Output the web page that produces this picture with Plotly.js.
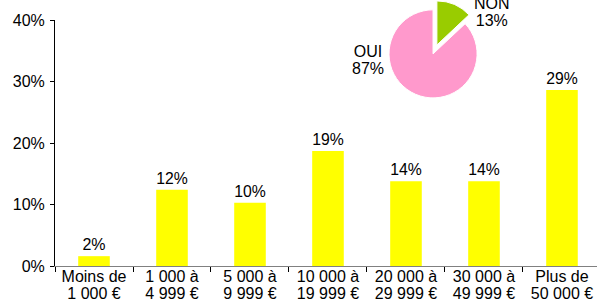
<!DOCTYPE html>
<html><head><meta charset="utf-8">
<script src="https://cdn.plot.ly/plotly-3.0.1.min.js"></script>
<style>html,body{margin:0;padding:0;background:#fff}#c{width:597px;height:306px}</style>
</head><body><div id="c"></div>
<script>
const categories = ["Moins de<br>1 000 €","1 000 à<br>4 999 €","5 000 à<br>9 999 €","10 000 à<br>19 999 €","20 000 à<br>29 999 €","30 000 à<br>49 999 €","Plus de<br>50 000 €"];
const shares = [1.6, 12.4, 10.3, 18.7, 13.8, 13.8, 28.6];
const pieLabels = ["NON", "OUI"];
const pieValues = [13, 87];
const pieColors = ["#99cc00", "#ff99cc"];

const FAM = "Liberation Sans, Arial, sans-serif";
const font = {family: FAM, size: 16, color: "#000"};
const big = s => s.split("<br>").map(p => "<span style='font-size:16px'>" + p + "</span>").join("<br>");

const bar = {
  type: "bar", x: categories, y: shares,
  marker: {color: "#ffff00"},
  text: shares.map(v => Math.round(v) + "%"),
  textposition: "outside", textfont: font, cliponaxis: false,
  hoverinfo: "none", showlegend: false
};
const pie = {
  type: "pie", labels: pieLabels, values: pieValues, sort: false,
  direction: "clockwise", rotation: 0,
  marker: {colors: pieColors, line: {color: "#ffffff", width: 1}},
  pull: [0.22, 0],
  textinfo: "none", hoverinfo: "none", showlegend: false,
  domain: {x: [0.5975, 0.7975], y: [0.5955, 0.9995]}
};
const total = pieValues.reduce((a, b) => a + b, 0);
const pct = pieValues.map(v => Math.round(v / total * 100) + "%");

const layout = {
  width: 597, height: 306,
  margin: {l: 55, r: 0, t: 0, b: 40},
  paper_bgcolor: "#fff", plot_bgcolor: "#fff",
  font: font, bargap: 0.595, showlegend: false,
  xaxis: {
    type: "category", range: [-0.5, 6.449], tickson: "boundaries",
    tickvals: categories, ticktext: categories.map(big),
    ticks: "outside", ticklen: 5, tickcolor: "#000",
    showline: true, linecolor: "#808080", linewidth: 1,
    showgrid: false, tickfont: {family: FAM, size: 12.8, color: "#000"}, fixedrange: true
  },
  yaxis: {
    domain: [0, 0.9248], range: [0, 40], dtick: 10, ticksuffix: "%",
    ticks: "outside", ticklen: 4, tickcolor: "#000",
    showline: true, linecolor: "#000", linewidth: 1,
    showgrid: false, zeroline: false, tickfont: font, ticklabelstandoff: 2, fixedrange: true
  },
  annotations: [
    {xref: "paper", yref: "paper", x: (492 - 55) / 542, y: (266 - 12.5) / 266, xanchor: "center", yanchor: "middle", text: big(pieLabels[0] + "<br>" + pct[0]), showarrow: false, font: {family: FAM, size: 12.8, color: "#000"}, align: "center"},
    {xref: "paper", yref: "paper", x: (368 - 55) / 542, y: (266 - 60.5) / 266, xanchor: "center", yanchor: "middle", text: big(pieLabels[1] + "<br>" + pct[1]), showarrow: false, font: {family: FAM, size: 12.8, color: "#000"}, align: "center"}
  ]
};
Plotly.newPlot("c", [bar, pie], layout, {staticPlot: true, displayModeBar: false});
</script></body></html>
